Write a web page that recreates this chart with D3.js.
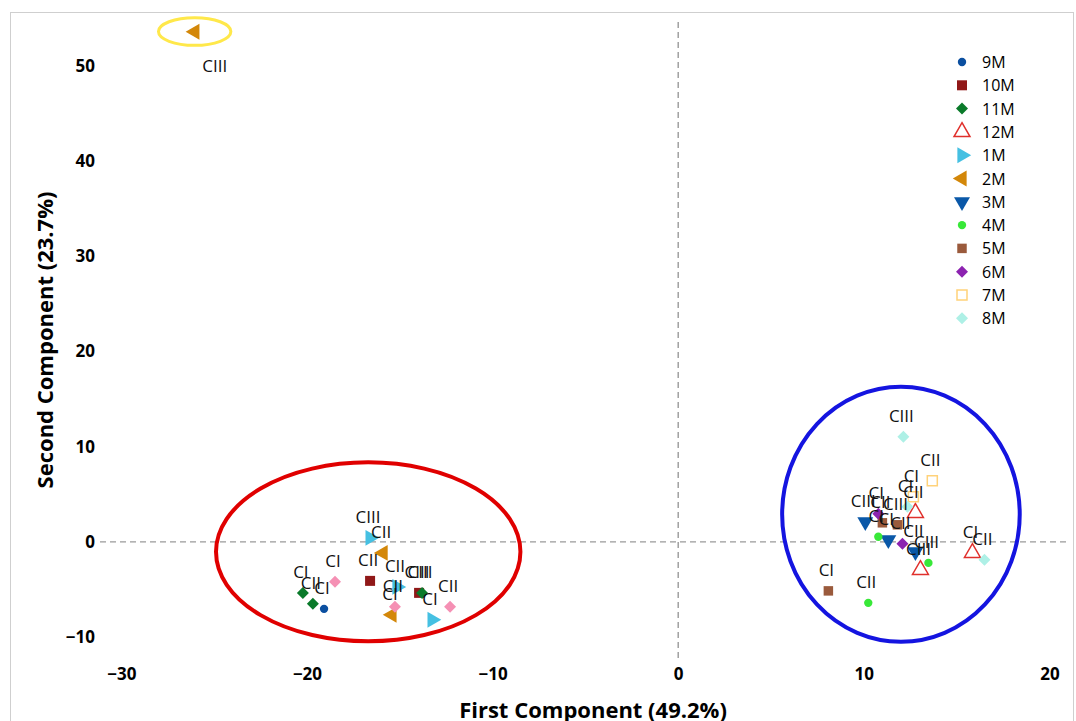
<!DOCTYPE html>
<html>
<head>
<meta charset="utf-8">
<script src="https://cdn.jsdelivr.net/npm/d3@7"></script>
<style>
  body { margin: 0; background: #fff; }
  svg text { font-family: "Open Sans", "Noto Sans", sans-serif; }
</style>
</head>
<body>
<figure id="pca" style="margin:0"></figure>
<script>
// series values: [first component, second component, group label]
const months = ["9M", "10M", "11M", "12M", "1M", "2M", "3M", "4M", "5M", "6M", "7M", "8M"];

const m9  = [[-19.08, -7.04, "CI"]];
const m10 = [[-16.60, -4.10, "CII"], [-13.96, -5.36, "CIII"]];
const m11 = [[-20.22, -5.36, "CI"], [-19.68, -6.51, "CII"], [-13.80, -5.36, "CIII"]];
const m12 = [[12.78, 3.05, "CII"], [13.05, -2.94, "CIII"], [15.85, -1.16, "CI"]];
const m1  = [[-16.60, 0.42, "CIII"], [-15.15, -4.73, "CII"], [-13.26, -8.19, "CI"]];
const m2  = [[-26.04, 53.57, "CIII"], [-15.90, -1.16, "CII"], [-15.42, -7.67, "CI"]];
const m3  = [[10.08, 2.10, "CIII"], [11.32, 0.21, "CI"], [12.78, -1.05, "CII"]];
const m4  = [[10.78, 0.53, "CI"], [13.48, -2.21, "CIII"], [10.24, -6.41, "CII"]];
const m5  = [[11.00, 2.00, "CII"], [11.81, 1.79, "CIII"], [8.09, -5.15, "CI"]];
const m6  = [[10.78, 2.94, "CI"], [12.08, -0.21, "CII"]];
const m7  = [[13.69, 6.41, "CII"], [12.67, 4.73, "CI"]];
const m8  = [[12.13, 11.03, "CIII"], [12.35, 3.68, "CI"], [16.50, -1.89, "CII"]];
// extra pink diamonds that have no legend entry
const unlisted = [[-18.49, -4.20, "CI"], [-15.26, -6.83, "CII"], [-12.29, -6.83, "CII"]];

const xTicks = [-30, -20, -10, 0, 10, 20];
const yTicks = [-10, 0, 10, 20, 30, 40, 50];

// circled groups: [cx, cy, rx, ry] in data units
const redRing = [-16.7, -1.05, 8.2, 9.4];
const blueRing = [12.0, 2.9, 6.4, 13.4];
const yellowRing = [-26.05, 53.6, 1.95, 1.45];

const series = [
  {name: "9M",  data: m9,  shape: d3.symbolCircle,   size: 55,  fill: "#0b4fa0", rot: 0},
  {name: "10M", data: m10, shape: d3.symbolSquare,   size: 100, fill: "#901818", rot: 0},
  {name: "11M", data: m11, shape: d3.symbolSquare,   size: 72,  fill: "#0a7a2a", rot: 45},
  {name: "12M", data: m12, shape: d3.symbolTriangle, size: 110, fill: "none", stroke: "#e0302c", rot: 0},
  {name: "1M",  data: m1,  shape: d3.symbolTriangle, size: 110, fill: "#45c0e2", rot: 90},
  {name: "2M",  data: m2,  shape: d3.symbolTriangle, size: 110, fill: "#d38709", rot: -90},
  {name: "3M",  data: m3,  shape: d3.symbolTriangle, size: 110, fill: "#0a58a8", rot: 180},
  {name: "4M",  data: m4,  shape: d3.symbolCircle,   size: 55,  fill: "#38e838", rot: 0},
  {name: "5M",  data: m5,  shape: d3.symbolSquare,   size: 90,  fill: "#9a5a3c", rot: 0},
  {name: "6M",  data: m6,  shape: d3.symbolSquare,   size: 72,  fill: "#8c22b0", rot: 45},
  {name: "7M",  data: m7,  shape: d3.symbolSquare,   size: 100, fill: "none", stroke: "#ffd27a", rot: 0},
  {name: "8M",  data: m8,  shape: d3.symbolSquare,   size: 72,  fill: "#aef0e6", rot: 45},
  {name: "",    data: unlisted, shape: d3.symbolSquare, size: 72, fill: "#f590b4", rot: 45, hidden: true}
];

const W = 1076, H = 721;
const margin = {top: 22, left: 100, right: 8, bottom: 63};
const width = W - margin.left - margin.right;
const height = H - margin.top - margin.bottom;

const svg = d3.select("figure#pca").append("svg")
  .attr("width", W).attr("height", H);

// outer frame
svg.append("rect")
  .attr("x", 10.5).attr("y", 12.5)
  .attr("width", 1063).attr("height", 760)
  .attr("fill", "none").attr("stroke", "#cfcfcf");

const g = svg.append("g")
  .attr("transform", "translate(" + margin.left + "," + margin.top + ")");

const x = d3.scaleLinear().domain([-31.15, 21]).range([0, width]);
const y = d3.scaleLinear().domain([-12.2, 54.6]).range([height, 0]);

// zero lines
g.append("line")
  .attr("x1", 0).attr("x2", width)
  .attr("y1", y(0)).attr("y2", y(0))
  .attr("stroke", "#9a9a9a").attr("stroke-width", 1.4).attr("stroke-dasharray", "6,4");
g.append("line")
  .attr("x1", x(0)).attr("x2", x(0))
  .attr("y1", 0).attr("y2", height)
  .attr("stroke", "#9a9a9a").attr("stroke-width", 1.4).attr("stroke-dasharray", "6,4");

// axes, labels only
const xAxis = g.append("g")
  .attr("transform", "translate(0," + height + ")")
  .call(d3.axisBottom(x).tickValues(xTicks).tickSize(0).tickPadding(10));
const yAxis = g.append("g")
  .call(d3.axisLeft(y).tickValues(yTicks).tickSize(0).tickPadding(5));
[xAxis, yAxis].forEach(a => {
  a.attr("font-family", null);
  a.select(".domain").remove();
  a.selectAll("text")
    .style("font-size", "17px").style("font-weight", "bold").attr("fill", "#000");
});

// axis titles
svg.append("text")
  .attr("x", 593).attr("y", 718)
  .attr("text-anchor", "middle")
  .style("font-size", "22px").style("font-weight", "bold")
  .text("First Component (49.2%)");
svg.append("text")
  .attr("transform", "translate(53,340) rotate(-90)")
  .attr("text-anchor", "middle")
  .style("font-size", "22px").style("font-weight", "bold")
  .text("Second Component (23.7%)");

// rings around the groups
[[redRing, "#e00000", 4], [blueRing, "#1414e0", 4], [yellowRing, "#ffe84a", 3]].forEach(([r, c, w]) => {
  g.append("ellipse")
    .attr("cx", x(r[0])).attr("cy", y(r[1]))
    .attr("rx", x(r[0] + r[2]) - x(r[0]))
    .attr("ry", y(r[1]) - y(r[1] + r[3]))
    .attr("fill", "none").attr("stroke", c).attr("stroke-width", w);
});

const symbolPath = s => d3.symbol().type(s.shape).size(s.size)();

// points
series.forEach(s => {
  g.selectAll(null)
    .data(s.data)
    .enter()
    .append("path")
    .attr("d", symbolPath(s))
    .attr("transform", d => "translate(" + x(d[0]) + "," + y(d[1]) + ") rotate(" + s.rot + ")")
    .attr("fill", s.fill)
    .attr("stroke", s.stroke || "none")
    .attr("stroke-width", 1.5);
});

// point labels, above the point unless there is no room
series.forEach(s => {
  g.selectAll(null)
    .data(s.data)
    .enter()
    .append("text")
    .attr("x", d => y(d[1]) < 30 ? x(d[0]) + 20 : x(d[0]) - 2)
    .attr("y", d => y(d[1]) < 30 ? y(d[1]) + 40 : y(d[1]) - 15)
    .attr("text-anchor", "middle")
    .style("font-size", "17px")
    .attr("fill", "#111")
    .text(d => d[2]);
});

// legend
const legend = svg.append("g").attr("transform", "translate(962,62)");
series.filter(s => !s.hidden).forEach((s, i) => {
  const row = legend.append("g").attr("transform", "translate(0," + (i * 23.3) + ")");
  row.append("path")
    .attr("d", symbolPath(s))
    .attr("transform", "rotate(" + s.rot + ")")
    .attr("fill", s.fill)
    .attr("stroke", s.stroke || "none")
    .attr("stroke-width", 1.5);
  row.append("text")
    .attr("x", 20).attr("y", 6)
    .style("font-size", "16px")
    .attr("fill", "#000")
    .text(s.name);
});
</script>
</body>
</html>
